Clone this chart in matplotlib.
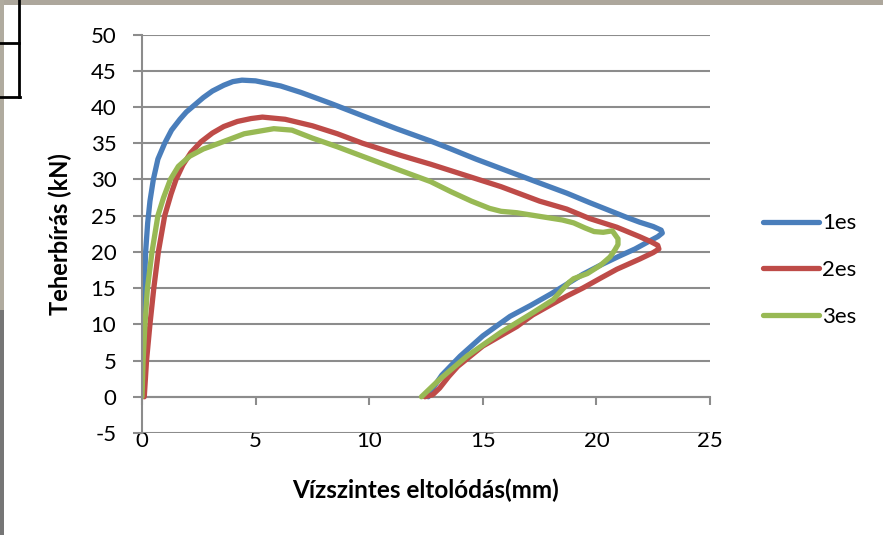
import matplotlib
matplotlib.use('Agg')
import matplotlib.pyplot as plt
from matplotlib.lines import Line2D
from matplotlib.patches import Rectangle

plt.rcParams['font.family'] = ['Lato', 'DejaVu Sans']
plt.rcParams['axes.unicode_minus'] = False

# 1es
x1 = [0, 0.03, 0.06, 0.1, 0.16, 0.25, 0.35, 0.5, 0.7, 1.0, 1.3, 1.67, 1.95, 2.25, 2.7, 3.1,
      3.6, 4.0, 4.4, 5.0, 6.1, 7.0, 8.3, 9.7, 11.2, 12.7, 13.6, 14.7, 15.8, 17.5, 18.7, 19.7,
      20.5, 21.3, 21.9, 22.5, 22.85, 22.9, 22.7, 22.4, 21.7, 21.0, 20.2, 19.4, 18.0, 17.1,
      16.2, 15.0, 14.0, 13.2, 12.85, 12.6]
y1 = [0, 5, 10, 15, 20, 24, 27, 30, 32.8, 35, 36.8, 38.3, 39.3, 40.1, 41.3, 42.2,
      43.0, 43.5, 43.7, 43.6, 42.9, 42.0, 40.5, 38.8, 37.0, 35.3, 34.2, 32.8, 31.5, 29.5, 28.1, 26.8,
      25.8, 24.8, 24.1, 23.5, 23.0, 22.6, 22.1, 21.6, 20.4, 19.4, 18.2, 16.9, 14.2, 12.6,
      11.1, 8.4, 5.6, 3.0, 1.4, 0]

# 2es
x2 = [0.1, 0.2, 0.35, 0.52, 0.72, 1.0, 1.28, 1.5, 1.8, 2.15, 2.6, 3.1, 3.6, 4.2, 4.8, 5.3,
      6.3, 7.5, 8.6, 9.7, 11.4, 12.7, 14.2, 15.8, 17.5, 18.7, 19.7, 20.9, 21.9, 22.4, 22.7,
      22.75, 22.5, 21.9, 20.9, 20.2, 19.4, 18.7, 18.0, 17.2, 16.5, 15.0, 13.9, 13.5, 13.1,
      12.8, 12.45]
y2 = [0, 5, 10, 15, 20, 25, 28, 30, 32.0, 33.7, 35.2, 36.4, 37.3, 38.0, 38.4, 38.6,
      38.3, 37.4, 36.3, 35.0, 33.3, 32.1, 30.6, 29.0, 27.0, 25.9, 24.6, 23.4, 22.1, 21.4, 20.9,
      20.4, 19.9, 19.0, 17.6, 16.4, 15.0, 13.9, 12.7, 11.3, 9.7, 7.0, 4.2, 2.8, 1.2,
      0.3, 0]

# 3es
x3 = [0, 0.05, 0.13, 0.24, 0.44, 0.7, 0.95, 1.25, 1.6, 2.1, 2.7, 3.4, 4.5, 5.8, 6.6,
      7.5, 8.6, 9.7, 11.4, 12.7, 13.6, 14.5, 15.3, 15.8, 16.5, 17.5, 18.5, 19.0, 19.5, 19.9,
      20.3, 20.7, 20.95, 20.95, 20.8, 20.6, 20.2, 19.6, 19.0, 18.8, 18.5, 18.1, 17.2, 15.8,
      14.3, 13.1, 12.3]
y3 = [0, 5, 10, 15, 20, 25, 27.5, 30, 31.8, 33.2, 34.2, 35.0, 36.3, 37.0, 36.8,
      35.7, 34.5, 33.2, 31.2, 29.7, 28.3, 27.0, 26.0, 25.6, 25.4, 24.9, 24.4, 24.0, 23.3, 22.8,
      22.7, 22.9, 21.8, 21.0, 20.2, 19.3, 18.2, 17.0, 16.3, 15.8, 14.8, 13.4, 11.6, 8.9,
      5.6, 2.4, 0]

series = [('1es', x1, y1, '#4A7EBB'), ('2es', x2, y2, '#BE4B48'), ('3es', x3, y3, '#98B954')]

xticks = [0, 5, 10, 15, 20, 25]
yticks = [-5, 0, 5, 10, 15, 20, 25, 30, 35, 40, 45, 50]
grid_c = '#8C8C8C'

W, H = 883, 535
fig = plt.figure(figsize=(W / 100, H / 100), dpi=100)
ax = fig.add_axes([142 / W, 1 - 433 / H, (710 - 142) / W, (433 - 34.5) / H])

for name, xs, ys, c in series:
    ax.plot(xs, ys, color=c, lw=3.8, label=name, solid_joinstyle='round', solid_capstyle='round')

ax.set_xlim(0, 25)
ax.set_ylim(-5, 50)
ax.set_yticks(yticks)
ax.set_xticks(xticks)
ax.grid(axis='y', color=grid_c, lw=1.5)
ax.set_axisbelow(True)
for s in ['top', 'right', 'bottom']:
    ax.spines[s].set_visible(False)
ax.spines['left'].set_color(grid_c)
ax.spines['left'].set_linewidth(1.5)
ax.tick_params(axis='y', direction='out', length=6.5, width=1.5, color=grid_c,
               labelsize=16, pad=12)
ax.tick_params(axis='x', length=0, labelsize=16, pad=-1.5)

# horizontal axis line crosses at y=0
sec = ax.secondary_xaxis(5 / 55)
sec.set_xticks(xticks)
sec.tick_params(axis='x', direction='out', length=6, width=1.5, color=grid_c, labelbottom=False)
sec.spines['bottom'].set_color(grid_c)
sec.spines['bottom'].set_linewidth(1.5)

ax.set_xlabel('Vízszintes eltolódás(mm)', fontsize=17.5, fontweight='bold', labelpad=20)
ax.set_ylabel('Teherbírás (kN)', fontsize=17, fontweight='bold', labelpad=13)

ax.legend(loc='center left', bbox_to_anchor=(763 / W, 1 - 270 / H),
          bbox_transform=fig.transFigure, frameon=False, fontsize=16,
          handlelength=2.5, handletextpad=0.15, labelspacing=1.2,
          borderpad=0, borderaxespad=0)

# screenshot edges
fig.add_artist(Rectangle((0, 1 - 5 / H), 1, 5 / H, transform=fig.transFigure,
                         color='#ADA79C', lw=0))
fig.add_artist(Rectangle((0, 1 - 310 / H), 4 / W, 310 / H, transform=fig.transFigure,
                         color='#B0AB9F', lw=0))
fig.add_artist(Rectangle((0, 0), 4 / W, 1 - 310 / H, transform=fig.transFigure,
                         color='#767676', lw=0))
fig.add_artist(Line2D([19 / W, 19 / W], [1, 1 - 97 / H], transform=fig.transFigure,
                      color='black', lw=2))
fig.add_artist(Line2D([0, 19 / W], [1 - 43 / H, 1 - 43 / H], transform=fig.transFigure,
                      color='black', lw=2))
fig.add_artist(Line2D([0, 20 / W], [1 - 97 / H, 1 - 97 / H], transform=fig.transFigure,
                      color='black', lw=2))

fig.savefig('out.png', dpi=100)
